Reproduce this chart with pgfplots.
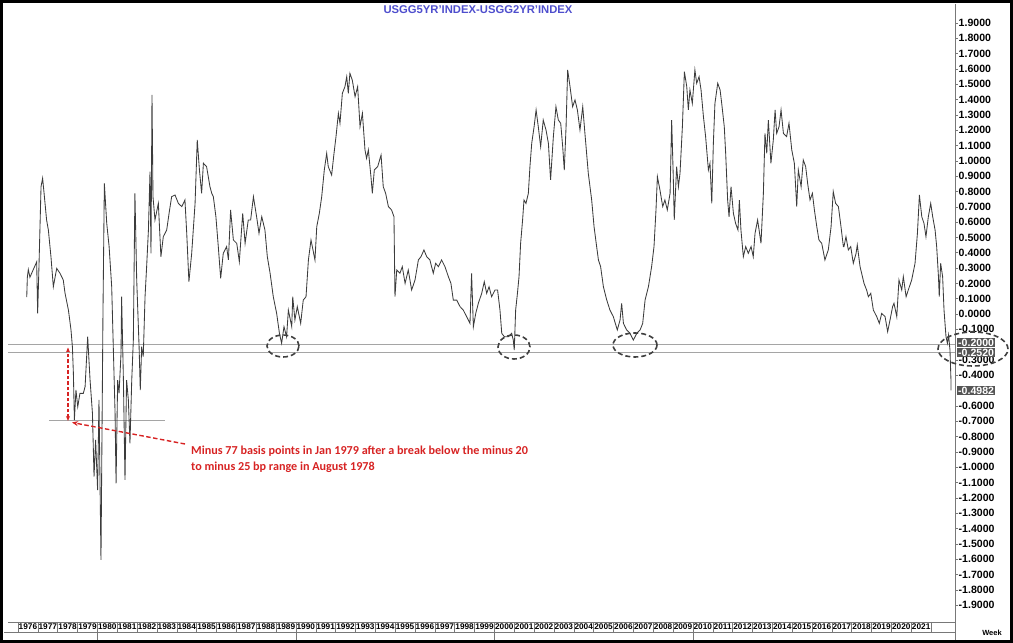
\documentclass[border=0pt]{standalone}
\usepackage{fontspec}
\setmainfont{Liberation Sans}
\newfontfamily\carlito{Carlito}
\usepackage{pgfplots}
\pgfplotsset{compat=1.18}
\usetikzlibrary{arrows.meta}
\definecolor{titleblue}{RGB}{78,78,205}
\definecolor{annred}{RGB}{215,35,35}
\definecolor{lineclr}{RGB}{60,60,60}
\definecolor{boxgray}{RGB}{85,85,85}
\definecolor{axgray}{RGB}{120,120,120}
\definecolor{refgray}{RGB}{165,165,165}

\pgfplotstableread{
x y
1976.44 0.11
1976.47 0.24
1976.52 0.29
1976.60 0.24
1976.77 0.29
1976.94 0.34
1976.99 0.004
1977.06 0.33
1977.16 0.831
1977.24 0.886
1977.33 0.766
1977.44 0.614
1977.53 0.548
1977.66 0.374
1977.78 0.178
1977.95 0.298
1978.12 0.265
1978.28 0.222
1978.37 0.135
1978.54 0.026
1978.67 -0.104
1978.74 -0.213
1978.79 -0.387
1978.84 -0.692
1978.92 -0.496
1979.01 -0.605
1979.12 -0.518
1979.29 -0.518
1979.38 -0.474
1979.51 -0.148
1979.63 -0.431
1979.75 -0.648
1979.83 -1.061
1979.91 -0.822
1980.01 -1.149
1980.08 -0.561
1980.18 -1.605
1980.28 0.004
1980.35 0.853
1980.47 0.592
1980.59 0.440
1980.72 0.178
1980.80 -0.213
1980.89 -0.648
1980.94 -1.105
1981.02 -0.431
1981.09 -0.518
1981.19 -0.257
1981.22 0.113
1981.31 -0.431
1981.39 -1.083
1981.47 -0.431
1981.56 -0.561
1981.64 -0.844
1981.73 -0.431
1981.81 -0.170
1981.89 0.788
1981.98 0.222
1982.10 -0.213
1982.16 -0.496
1982.23 -0.213
1982.31 -0.278
1982.40 0.113
1982.48 0.309
1982.57 0.548
1982.65 0.929
1982.70 0.396
1982.75 1.430
1982.80 0.766
1982.90 0.614
1983.07 0.722
1983.20 0.374
1983.32 0.505
1983.49 0.548
1983.61 0.657
1983.74 0.766
1983.91 0.777
1984.08 0.722
1984.25 0.701
1984.41 0.744
1984.50 0.527
1984.61 0.211
1984.75 0.396
1984.92 0.722
1985.03 1.136
1985.14 0.940
1985.25 0.788
1985.34 0.984
1985.50 0.962
1985.67 0.831
1985.76 0.788
1985.84 0.766
1985.97 0.635
1986.09 0.440
1986.21 0.233
1986.34 0.396
1986.51 0.440
1986.60 0.353
1986.71 0.679
1986.85 0.483
1987.02 0.461
1987.15 0.342
1987.32 0.657
1987.44 0.461
1987.60 0.614
1987.72 0.614
1987.86 0.766
1988.02 0.635
1988.14 0.527
1988.28 0.635
1988.44 0.548
1988.56 0.374
1988.70 0.266
1988.86 0.113
1989.03 0.004
1989.17 -0.126
1989.28 -0.191
1989.40 -0.083
1989.53 -0.148
1989.62 0.026
1989.79 -0.083
1989.84 0.113
1989.95 -0.039
1990.07 0.048
1990.24 -0.061
1990.37 0.091
1990.51 0.113
1990.63 0.353
1990.76 0.483
1990.96 0.353
1991.05 0.570
1991.18 0.657
1991.30 0.766
1991.43 0.940
1991.55 1.049
1991.63 0.962
1991.80 0.907
1991.92 1.049
1992.02 1.158
1992.14 1.310
1992.22 1.245
1992.34 1.440
1992.47 1.484
1992.56 1.549
1992.64 1.440
1992.72 1.571
1992.84 1.527
1992.98 1.419
1993.11 1.484
1993.18 1.332
1993.23 1.223
1993.35 1.310
1993.48 1.071
1993.56 1.016
1993.65 1.071
1993.78 0.897
1993.85 0.788
1993.95 0.940
1994.12 0.962
1994.29 1.038
1994.40 0.831
1994.52 0.788
1994.66 0.701
1994.82 0.679
1994.94 0.635
1994.99 0.113
1995.08 0.287
1995.24 0.266
1995.36 0.309
1995.50 0.200
1995.66 0.287
1995.83 0.157
1996.00 0.222
1996.17 0.353
1996.30 0.374
1996.45 0.418
1996.59 0.374
1996.75 0.353
1996.92 0.266
1997.04 0.331
1997.18 0.309
1997.34 0.353
1997.51 0.309
1997.68 0.244
1997.81 0.200
1997.93 0.091
1998.10 0.091
1998.27 0.048
1998.43 0.026
1998.60 -0.017
1998.77 -0.061
1998.85 0.266
1998.94 -0.083
1999.06 0.004
1999.19 0.070
1999.36 0.135
1999.49 0.211
1999.61 0.135
1999.73 0.178
1999.86 0.113
2000.03 0.157
2000.16 0.157
2000.28 0.026
2000.37 -0.126
2000.50 -0.148
2000.70 -0.148
2000.87 -0.126
2000.95 -0.170
2001.00 -0.235
2001.07 0.026
2001.16 0.135
2001.24 0.244
2001.32 0.461
2001.42 0.614
2001.49 0.744
2001.59 0.722
2001.71 0.788
2001.79 0.962
2001.88 1.114
2002.00 1.223
2002.10 1.332
2002.21 1.223
2002.33 1.092
2002.46 1.266
2002.60 1.201
2002.72 1.114
2002.83 0.875
2002.97 1.158
2003.10 1.353
2003.22 1.266
2003.34 1.245
2003.44 1.092
2003.52 0.940
2003.61 1.223
2003.69 1.593
2003.81 1.484
2003.94 1.353
2004.06 1.397
2004.18 1.332
2004.31 1.201
2004.45 1.353
2004.56 1.179
2004.73 0.918
2004.90 0.744
2005.02 0.570
2005.15 0.440
2005.24 0.353
2005.35 0.309
2005.49 0.179
2005.66 0.091
2005.82 0.026
2005.99 -0.017
2006.19 -0.104
2006.33 -0.039
2006.41 0.070
2006.50 -0.061
2006.66 -0.104
2006.83 -0.126
2007.00 -0.170
2007.17 -0.126
2007.34 -0.104
2007.47 -0.061
2007.59 0.091
2007.76 0.179
2007.92 0.309
2008.04 0.440
2008.14 0.679
2008.21 0.897
2008.34 0.809
2008.48 0.701
2008.59 0.744
2008.71 0.679
2008.85 0.788
2008.93 1.266
2009.01 0.897
2009.06 0.614
2009.18 0.962
2009.27 0.831
2009.35 0.918
2009.47 1.223
2009.57 1.582
2009.69 1.484
2009.77 1.332
2009.85 1.462
2009.97 1.375
2010.10 1.593
2010.19 1.506
2010.31 1.549
2010.41 1.462
2010.53 1.288
2010.64 1.158
2010.78 0.940
2010.86 0.984
2010.95 0.722
2011.03 1.114
2011.11 1.375
2011.25 1.506
2011.37 1.462
2011.45 1.375
2011.58 1.223
2011.65 1.049
2011.75 0.744
2011.82 0.635
2011.92 0.831
2012.04 0.657
2012.15 0.592
2012.27 0.548
2012.34 0.744
2012.42 0.548
2012.54 0.374
2012.66 0.440
2012.79 0.396
2012.93 0.440
2013.04 0.374
2013.13 0.527
2013.26 0.614
2013.43 0.461
2013.55 0.788
2013.63 1.179
2013.72 1.049
2013.80 1.266
2013.93 0.984
2014.05 1.136
2014.14 1.332
2014.22 1.179
2014.34 1.223
2014.44 1.332
2014.56 1.179
2014.72 1.158
2014.84 1.245
2014.98 1.071
2015.11 0.984
2015.23 0.701
2015.31 0.940
2015.45 0.831
2015.56 1.005
2015.68 0.962
2015.78 0.853
2015.90 0.744
2016.02 0.788
2016.12 0.679
2016.24 0.570
2016.35 0.483
2016.49 0.461
2016.65 0.353
2016.82 0.418
2016.96 0.570
2017.07 0.799
2017.19 0.722
2017.33 0.701
2017.46 0.570
2017.58 0.440
2017.61 0.440
2017.71 0.505
2017.83 0.418
2017.95 0.440
2018.08 0.331
2018.22 0.396
2018.28 0.451
2018.42 0.309
2018.50 0.266
2018.62 0.200
2018.75 0.157
2018.84 0.113
2018.96 0.135
2019.09 0.026
2019.26 -0.017
2019.39 -0.061
2019.51 0.004
2019.68 -0.017
2019.81 -0.115
2019.93 -0.039
2020.06 0.048
2020.13 0.070
2020.27 -0.017
2020.38 0.222
2020.52 0.157
2020.60 0.244
2020.74 0.113
2020.85 0.157
2021.02 0.222
2021.19 0.331
2021.31 0.527
2021.41 0.777
2021.53 0.635
2021.64 0.592
2021.74 0.505
2021.86 0.635
2021.98 0.722
2022.08 0.635
2022.20 0.548
2022.28 0.440
2022.37 0.244
2022.41 0.113
2022.48 0.331
2022.58 0.244
2022.65 0.026
2022.75 -0.148
2022.82 -0.191
2022.88 -0.137
2022.95 -0.235
2023.00 -0.431
2023.00 -0.498
}\spread

\begin{document}
\begin{tikzpicture}[x=1bp,y=1bp]
\useasboundingbox (0,0) rectangle (1013,643);
\begin{axis}[
  at={(8bp,21bp)}, anchor=south west,
  width=947bp, height=618bp, scale only axis,
  xmin=1975.496, xmax=2023.204, ymin=-2.010, ymax=2.0235,
  axis x line*=bottom, axis y line*=right,
  axis line style={axgray, line width=0.6bp},
  tick align=outside, major tick length=2.5bp,
  xtick={1976.5,1977.5,...,2021.5},
  xticklabels={1976,1977,1978,1979,1980,1981,1982,1983,1984,1985,1986,1987,1988,1989,1990,1991,1992,1993,1994,1995,1996,1997,1998,1999,2000,2001,2002,2003,2004,2005,2006,2007,2008,2009,2010,2011,2012,2013,2014,2015,2016,2017,2018,2019,2020,2021},
  xtick style={draw=none},
  xticklabel style={font=\fontsize{8.3}{9}\selectfont\bfseries, anchor=north, inner sep=0pt, yshift=0.5bp},
  ytick={-1.9,-1.8,-1.7,-1.6,-1.5,-1.4,-1.3,-1.2,-1.1,-1,-0.9,-0.8,-0.7,-0.6,-0.4,-0.3,-0.1,0,0.1,0.2,0.3,0.4,0.5,0.6,0.7,0.8,0.9,1,1.1,1.2,1.3,1.4,1.5,1.6,1.7,1.8,1.9},
  ytick style={axgray, line width=0.5bp},
  yticklabel style={font=\fontsize{10.6}{12}\selectfont\bfseries, anchor=west, inner sep=0pt, xshift=1bp,
    /pgf/number format/.cd, fixed, fixed zerofill, precision=4, assume math mode=true},
  clip=false,
]
\draw[refgray, line width=0.7bp] (axis cs:1975.496,-0.2) -- (axis cs:2023.204,-0.2);
\draw[refgray, line width=0.7bp] (axis cs:1975.496,-0.252) -- (axis cs:2023.204,-0.252);
\draw[refgray, line width=0.7bp] (axis cs:1977.55,-0.696) -- (axis cs:1983.40,-0.696);
\addplot[lineclr, line width=0.85bp, mark=none] table[x=x,y=y] {\spread};
\end{axis}

% title
\node[font=\fontsize{11.3}{13}\selectfont\bfseries, text=titleblue] at (478,633) {USGG5YR'INDEX-USGG2YR'INDEX};

% year row separators and bottom line
\foreach \i in {0,...,46} {
  \draw[axgray, line width=0.5bp] ({18+\i*19.85},21) -- ({18+\i*19.85},11);
}
\draw[axgray, line width=0.6bp] (4,11) -- (955,11);
\foreach \i in {4,14,24,34} {
  \draw[axgray, line width=0.6bp] ({18+\i*19.85},11) -- ({18+\i*19.85},3);
}
\draw[axgray, line width=0.6bp] (955,21) -- (955,3);
\node[font=\fontsize{7.5}{9}\selectfont\bfseries] at (992,10) {Week};

% highlighted price labels
\node[fill=boxgray, text=white, font=\fontsize{10.6}{12}\selectfont\bfseries, inner xsep=1pt, inner ysep=0.8pt, anchor=west] at (957,300.5) {-0.2000};
\node[fill=boxgray, text=white, font=\fontsize{10.6}{12}\selectfont\bfseries, inner xsep=1pt, inner ysep=0.8pt, anchor=west] at (957,290.5) {-0.2520};
\node[fill=boxgray, text=white, font=\fontsize{10.6}{12}\selectfont\bfseries, inner xsep=1pt, inner ysep=0.8pt, anchor=west] at (957,252.5) {-0.4982};

% dashed ellipses
\draw[black!75, line width=1.6bp, dash pattern=on 5bp off 3bp] (283,297) ellipse [x radius=16, y radius=11];
\draw[black!75, line width=1.6bp, dash pattern=on 5bp off 3bp] (514,296) ellipse [x radius=16, y radius=12];
\draw[black!75, line width=1.6bp, dash pattern=on 5bp off 3bp] (635,298) ellipse [x radius=22, y radius=12];
\draw[black!75, line width=1.6bp, dash pattern=on 5bp off 3bp] (973,294) ellipse [x radius=35, y radius=17];

% red annotation
\draw[annred, line width=1.4bp, dash pattern=on 3.5bp off 2bp, {Stealth[length=5bp,width=4bp]}-{Stealth[length=5bp,width=4bp]}] (68,222) -- (68,295.5);
\draw[annred, line width=1.4bp, dash pattern=on 4.5bp off 2.5bp, -{Stealth[length=6bp,width=5bp]}] (185,199) -- (72,220.5);
\node[anchor=base west, inner sep=0pt, text=annred, font=\carlito\fontsize{12.2}{14}\selectfont\bfseries] at (191,188) {Minus 77 basis points in Jan 1979 after a break below the minus 20};
\node[anchor=base west, inner sep=0pt, text=annred, font=\carlito\fontsize{12.2}{14}\selectfont\bfseries] at (191,172) {to minus 25 bp range in August 1978};

% outer frame
\draw[black, line width=3bp] (1.5,1.5) rectangle (1011.5,641.5);
\end{tikzpicture}
\end{document}
